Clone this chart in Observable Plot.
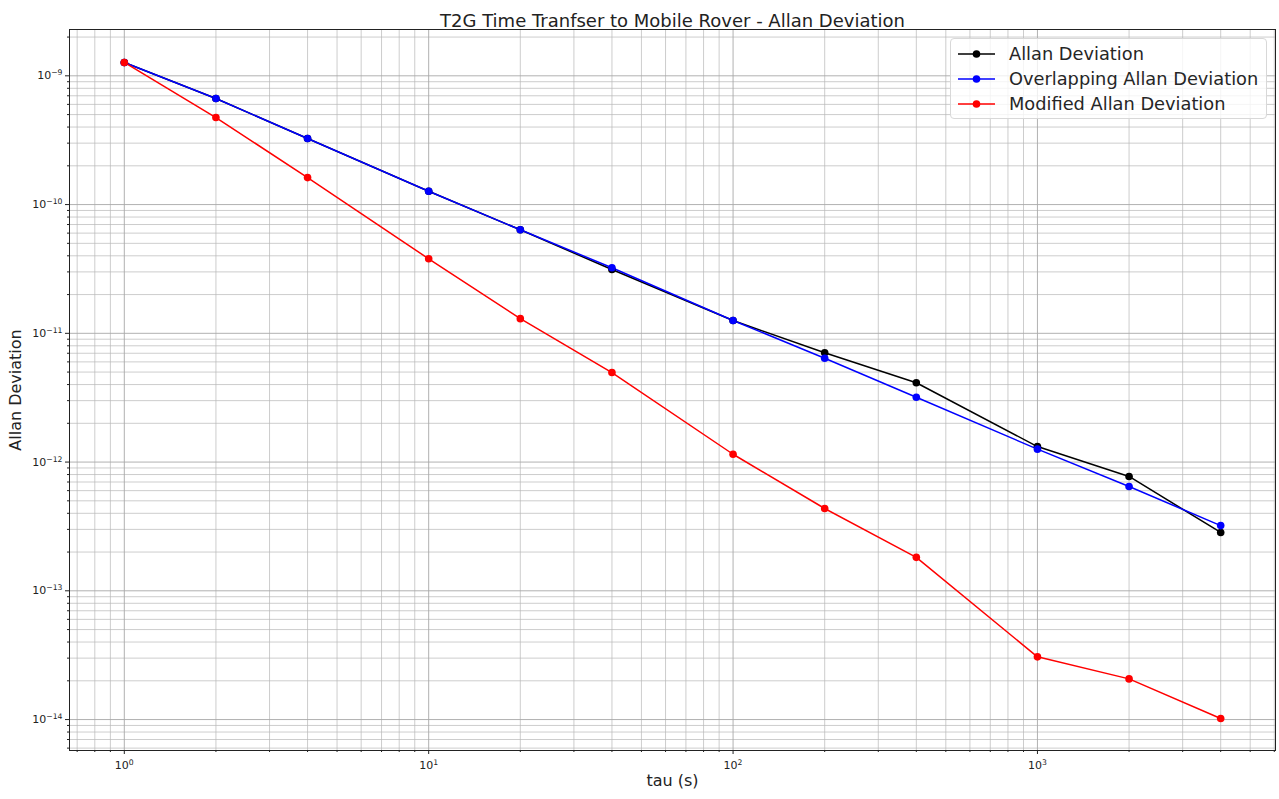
<!DOCTYPE html>
<html>
<head>
<meta charset="utf-8">
<script src="https://cdn.jsdelivr.net/npm/d3@7"></script>
<script src="https://cdn.jsdelivr.net/npm/@observablehq/plot@0.6"></script>
<style>
  body { margin: 0; background: #fff; font-family: "DejaVu Sans", sans-serif; }
  #wrap { position: relative; width: 1279px; height: 799px; }
  #legend { position: absolute; left: 950px; top: 38px; width: 317px; height: 81px;
    box-sizing: border-box; border: 1px solid #d8d8d8; border-radius: 4px;
    background: rgba(255,255,255,0.8); padding: 2px 0 0 7px; }
  .row { display: flex; align-items: center; height: 25px; font-size: 17.8px; color: #262626; white-space: nowrap; }
  .row svg { margin-right: 14px; flex: none; }
</style>
</head>
<body>
<div id="wrap"></div>
<script>
// ---- data ----
const tau = [1, 2, 4, 10, 20, 40, 100, 200, 400, 1000, 2000, 4000];
const adev  = [1.27e-9, 6.66e-10, 3.26e-10, 1.27e-10, 6.37e-11, 3.13e-11, 1.257e-11, 7.06e-12, 4.13e-12, 1.32e-12, 7.73e-13, 2.84e-13];
const oadev = [1.27e-9, 6.66e-10, 3.26e-10, 1.27e-10, 6.37e-11, 3.23e-11, 1.257e-11, 6.41e-12, 3.19e-12, 1.26e-12, 6.46e-13, 3.21e-13];
const mdev  = [1.27e-9, 4.74e-10, 1.62e-10, 3.79e-11, 1.30e-11, 4.96e-12, 1.15e-12, 4.36e-13, 1.82e-13, 3.07e-14, 2.07e-14, 1.02e-14];
const seriesNames = ["Allan Deviation", "Overlapping Allan Deviation", "Modified Allan Deviation"];
const seriesColors = ["#000000", "#0000ff", "#ff0000"];
const xMajor = [1, 10, 100, 1000];
const xMajorExp = ["0", "1", "2", "3"];
const yMajor = [1e-9, 1e-10, 1e-11, 1e-12, 1e-13, 1e-14];
const yMajorExp = ["−9", "−10", "−11", "−12", "−13", "−14"];
const titleText = "T2G Time Tranfser to Mobile Rover - Allan Deviation";
const xLabel = "tau (s)";
const yLabel = "Allan Deviation";

// ---- build ----
const xDomain = [0.6606, 6055];
const yDomain = [5.75e-15, 2.29e-9];
function minorTicks(lo, hi) {
  const out = [];
  for (let e = Math.floor(Math.log10(lo)); e <= Math.ceil(Math.log10(hi)); e++) {
    for (let k = 2; k <= 9; k++) {
      const v = k * Math.pow(10, e);
      if (v >= lo && v <= hi) out.push(v);
    }
  }
  return out;
}
const xMinor = minorTicks(xDomain[0], xDomain[1]);
const yMinor = minorTicks(yDomain[0], yDomain[1]);

const rows = [];
[adev, oadev, mdev].forEach((vals, s) => {
  tau.forEach((t, i) => rows.push({tau: t, value: vals[i], series: seriesNames[s]}));
});

const SEP = "\u2063"; // marker to split base and exponent
const gridStroke = "#b8b8b8";
const chart = Plot.plot({
  width: 1279,
  height: 799,
  marginLeft: 69,
  marginRight: 4,
  marginTop: 29,
  marginBottom: 49,
  style: {fontFamily: "DejaVu Sans, sans-serif", background: "#fff", color: "#222"},
  x: {type: "log", domain: xDomain},
  y: {type: "log", domain: yDomain},
  color: {domain: seriesNames, range: seriesColors},
  marks: [
    Plot.gridX(xMinor, {stroke: gridStroke, strokeOpacity: 0.7, strokeWidth: 1}),
    Plot.gridY(yMinor, {stroke: gridStroke, strokeOpacity: 0.7, strokeWidth: 1}),
    Plot.gridX(xMajor, {stroke: "#a8a8a8", strokeOpacity: 0.9, strokeWidth: 1}),
    Plot.gridY(yMajor, {stroke: "#a8a8a8", strokeOpacity: 0.9, strokeWidth: 1}),
    Plot.axisX(xMinor, {tickSize: 2, tickFormat: () => "", label: null, stroke: "#222"}),
    Plot.axisY(yMinor, {tickSize: 2, tickFormat: () => "", label: null, stroke: "#222"}),
    Plot.axisX(xMajor, {tickSize: 4, tickPadding: 7, fontSize: 11,
      tickFormat: d => "10" + SEP + xMajorExp[xMajor.indexOf(d)], label: null, stroke: "#222", fill: "#222"}),
    Plot.axisY(yMajor, {tickSize: 4, tickPadding: 3, fontSize: 11,
      tickFormat: d => "10" + SEP + yMajorExp[yMajor.indexOf(d)], label: null, stroke: "#222", fill: "#222"}),
    Plot.line(rows, {x: "tau", y: "value", z: "series", stroke: "series", strokeWidth: 1.5}),
    Plot.dot(rows, {x: "tau", y: "value", fill: "series", r: 3.8}),
    Plot.frame({stroke: "#222", strokeWidth: 1}),
    Plot.text([titleText], {text: d => d, frameAnchor: "top", dy: -15, fontSize: 18, fill: "#222"}),
    Plot.text([xLabel], {text: d => d, frameAnchor: "bottom", dy: 35, fontSize: 16, fill: "#222"}),
    Plot.text([yLabel], {text: d => d, frameAnchor: "left", textAnchor: "middle", dx: -54, rotate: -90, fontSize: 16, fill: "#222"})
  ]
});

// render exponents as real superscript tspans
chart.querySelectorAll("text").forEach(t => {
  const s = t.textContent;
  if (s.includes(SEP)) {
    const [base, exp] = s.split(SEP);
    const target = t.querySelector("tspan") || t;
    target.textContent = "";
    const b = document.createElementNS("http://www.w3.org/2000/svg", "tspan");
    b.textContent = base;
    const e = document.createElementNS("http://www.w3.org/2000/svg", "tspan");
    e.textContent = exp;
    e.setAttribute("font-size", "0.7em");
    e.setAttribute("dy", "-0.5em");
    target.appendChild(b);
    target.appendChild(e);
  }
});

const wrap = document.getElementById("wrap");
wrap.appendChild(chart);

const legend = document.createElement("div");
legend.id = "legend";
seriesNames.forEach((name, i) => {
  const row = document.createElement("div");
  row.className = "row";
  const c = seriesColors[i];
  row.innerHTML = `<svg width="37" height="10"><line x1="0" x2="37" y1="5" y2="5" stroke="${c}" stroke-width="1.5"/><circle cx="18.5" cy="5" r="3.8" fill="${c}"/></svg><span>${name}</span>`;
  legend.appendChild(row);
});
wrap.appendChild(legend);
</script>
</body>
</html>
